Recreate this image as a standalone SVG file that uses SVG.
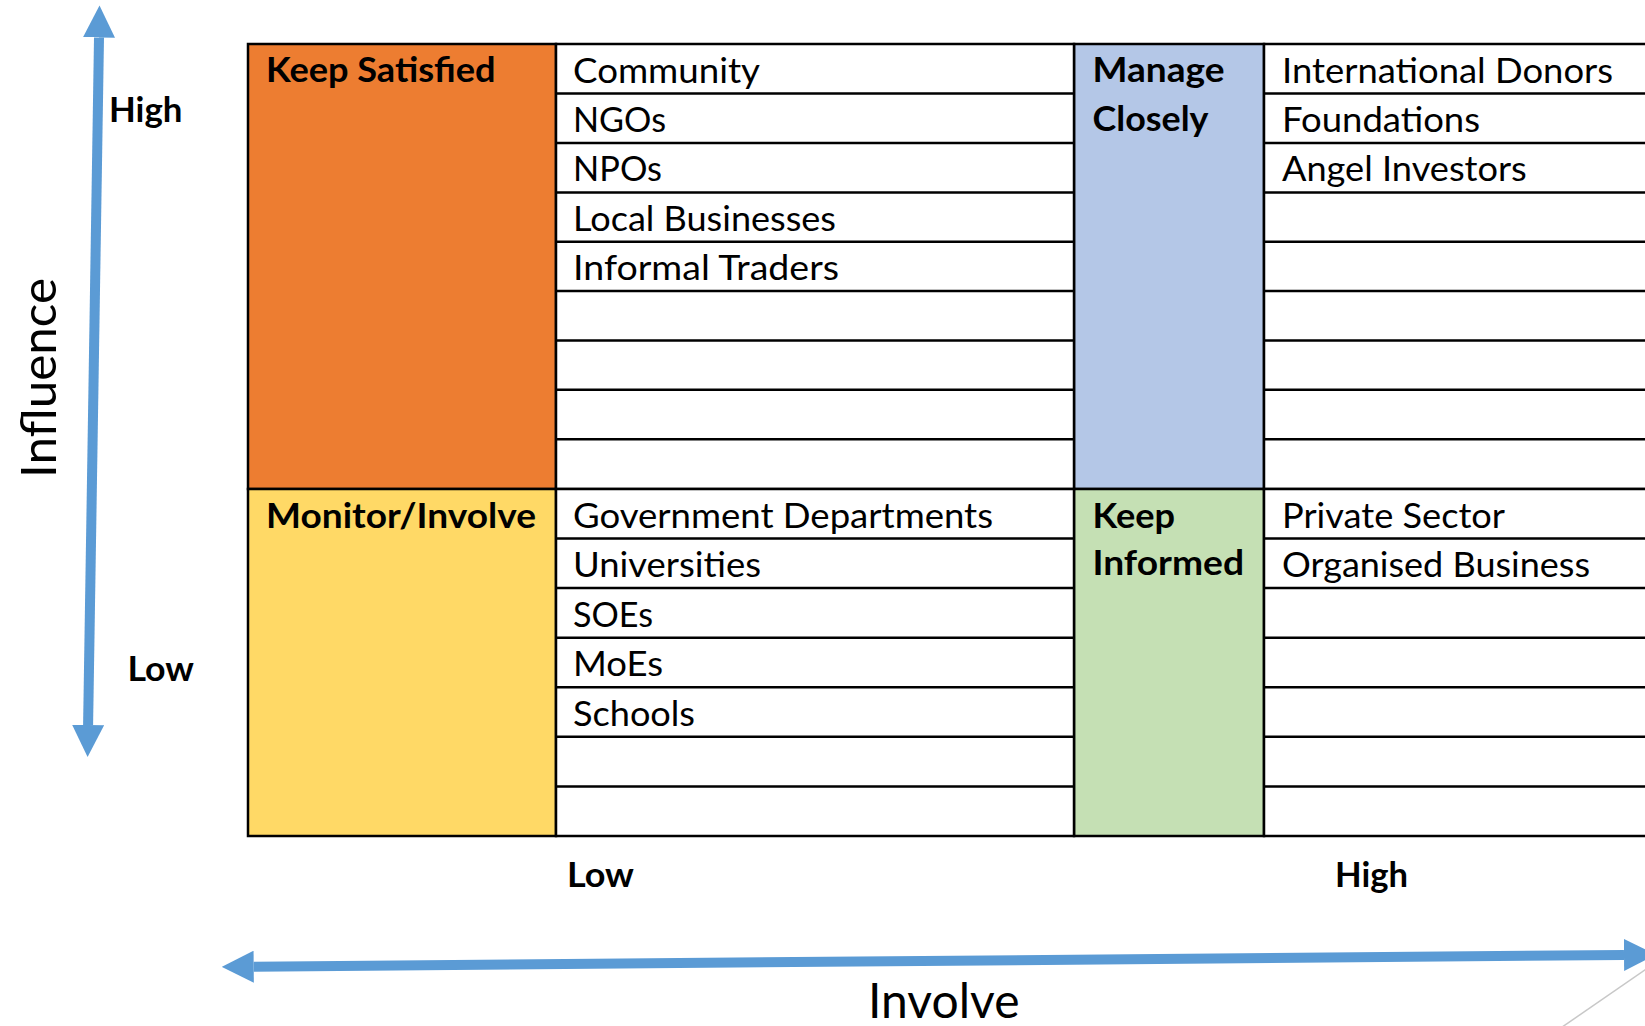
<svg xmlns="http://www.w3.org/2000/svg" width="1645" height="1026" viewBox="0 0 1645 1026">
<style>
  .t { font-family: Lato, "Open Sans", "Liberation Sans", sans-serif; font-size: 35px; fill: #000; }
  .b { font-family: Lato, "Open Sans", "Liberation Sans", sans-serif; font-size: 35px; font-weight: bold; fill: #000; }
  .ax { font-family: Lato, "Open Sans", "Liberation Sans", sans-serif; font-size: 48px; fill: #000; }
  .grid { stroke: #000; stroke-width: 2.5; }
  .rows { stroke: #000; stroke-width: 2.5; fill: none; }
  .axis { stroke: #5B9BD5; stroke-width: 10; fill: none; marker-start: url(#ah); marker-end: url(#ah); }
</style>
<defs>
  <marker id="ah" viewBox="0 0 32 32" refX="0" refY="16" markerWidth="32" markerHeight="32" markerUnits="userSpaceOnUse" orient="auto-start-reverse">
    <path d="M0,0 L32,16 L0,32 z" fill="#5B9BD5"/>
  </marker>
</defs>
<rect x="0" y="0" width="1645" height="1026" fill="#fff"/>

<g id="keep-satisfied">
  <rect x="248" y="44" width="308" height="445" fill="#ED7D31" class="grid"/>
  <text class="b" x="266" y="82" textLength="229.5" lengthAdjust="spacingAndGlyphs">Keep Satisfied</text>
</g>
<g id="monitor-involve">
  <rect x="248" y="489" width="308" height="347" fill="#FFD966" class="grid"/>
  <text class="b" x="266" y="527.5" textLength="270" lengthAdjust="spacingAndGlyphs">Monitor/Involve</text>
</g>
<g id="manage-closely">
  <rect x="1074" y="44" width="190" height="445" fill="#B4C7E7" class="grid"/>
  <text class="b" x="1092.5" y="82" textLength="132" lengthAdjust="spacingAndGlyphs">Manage</text>
  <text class="b" x="1092.5" y="130.5" textLength="116" lengthAdjust="spacingAndGlyphs">Closely</text>
</g>
<g id="keep-informed">
  <rect x="1074" y="489" width="190" height="347" fill="#C5E0B4" class="grid"/>
  <text class="b" x="1092.5" y="527.5" textLength="82.5" lengthAdjust="spacingAndGlyphs">Keep</text>
  <text class="b" x="1092.5" y="574.8" textLength="151.5" lengthAdjust="spacingAndGlyphs">Informed</text>
</g>

<g id="low-list-high">
  <rect x="556" y="44" width="518" height="445" fill="#fff" class="grid"/>
  <path class="rows" d="M556,93.6H1074M556,143H1074M556,192.4H1074M556,241.7H1074M556,291H1074M556,340.4H1074M556,389.7H1074M556,439.2H1074"/>
  <text class="t" x="573" y="82.5" textLength="187" lengthAdjust="spacingAndGlyphs">Community</text>
  <text class="t" x="573" y="131.8" textLength="93" lengthAdjust="spacingAndGlyphs">NGOs</text>
  <text class="t" x="573" y="181.2" textLength="89" lengthAdjust="spacingAndGlyphs">NPOs</text>
  <text class="t" x="573" y="230.7" textLength="263" lengthAdjust="spacingAndGlyphs">Local Businesses</text>
  <text class="t" x="573" y="280.1" textLength="266" lengthAdjust="spacingAndGlyphs">Informal Traders</text>
</g>
<g id="low-list-low">
  <rect x="556" y="489" width="518" height="347" fill="#fff" class="grid"/>
  <path class="rows" d="M556,538.5H1074M556,588H1074M556,637.7H1074M556,687.2H1074M556,736.8H1074M556,786.4H1074"/>
  <text class="t" x="573" y="527.5" textLength="420" lengthAdjust="spacingAndGlyphs">Government Departments</text>
  <text class="t" x="573" y="577" textLength="188" lengthAdjust="spacingAndGlyphs">Universities</text>
  <text class="t" x="573" y="626.5" textLength="80" lengthAdjust="spacingAndGlyphs">SOEs</text>
  <text class="t" x="573" y="676" textLength="90" lengthAdjust="spacingAndGlyphs">MoEs</text>
  <text class="t" x="573" y="725.5" textLength="122" lengthAdjust="spacingAndGlyphs">Schools</text>
</g>
<g id="high-list-high">
  <rect x="1264" y="44" width="400" height="445" fill="#fff" class="grid"/>
  <path class="rows" d="M1264,93.6H1664M1264,143H1664M1264,192.4H1664M1264,241.7H1664M1264,291H1664M1264,340.4H1664M1264,389.7H1664M1264,439.2H1664"/>
  <text class="t" x="1282" y="82.5" textLength="331" lengthAdjust="spacingAndGlyphs">International Donors</text>
  <text class="t" x="1282" y="131.8" textLength="198" lengthAdjust="spacingAndGlyphs">Foundations</text>
  <text class="t" x="1282" y="181.2" textLength="244.7" lengthAdjust="spacingAndGlyphs">Angel Investors</text>
</g>
<g id="high-list-low">
  <rect x="1264" y="489" width="400" height="347" fill="#fff" class="grid"/>
  <path class="rows" d="M1264,538.5H1664M1264,588H1664M1264,637.7H1664M1264,687.2H1664M1264,736.8H1664M1264,786.4H1664"/>
  <text class="t" x="1282" y="527.5" textLength="223" lengthAdjust="spacingAndGlyphs">Private Sector</text>
  <text class="t" x="1282" y="577" textLength="308" lengthAdjust="spacingAndGlyphs">Organised Business</text>
</g>

<g id="axis-labels">
  <text class="b" x="109" y="122" textLength="73.4" lengthAdjust="spacingAndGlyphs">High</text>
  <text class="b" x="127.5" y="681" textLength="66.5" lengthAdjust="spacingAndGlyphs">Low</text>
  <text class="b" x="567" y="887" textLength="67" lengthAdjust="spacingAndGlyphs">Low</text>
  <text class="b" x="1335" y="887" textLength="73" lengthAdjust="spacingAndGlyphs">High</text>
  <text class="ax" transform="translate(55.5,478) rotate(-90)" x="0" y="0" textLength="200" lengthAdjust="spacingAndGlyphs">Influence</text>
  <text class="ax" x="868" y="1018" textLength="151.5" lengthAdjust="spacingAndGlyphs">Involve</text>
</g>

<g id="connectors">
  <line class="axis" x1="99" y1="37.5" x2="88.1" y2="725"/>
  <line class="axis" x1="253.7" y1="966.7" x2="1624" y2="955"/>
  <line x1="1560" y1="1028.5" x2="1650" y2="966.5" stroke="#c8c8c8" stroke-width="1.5"/>
</g>
</svg>
